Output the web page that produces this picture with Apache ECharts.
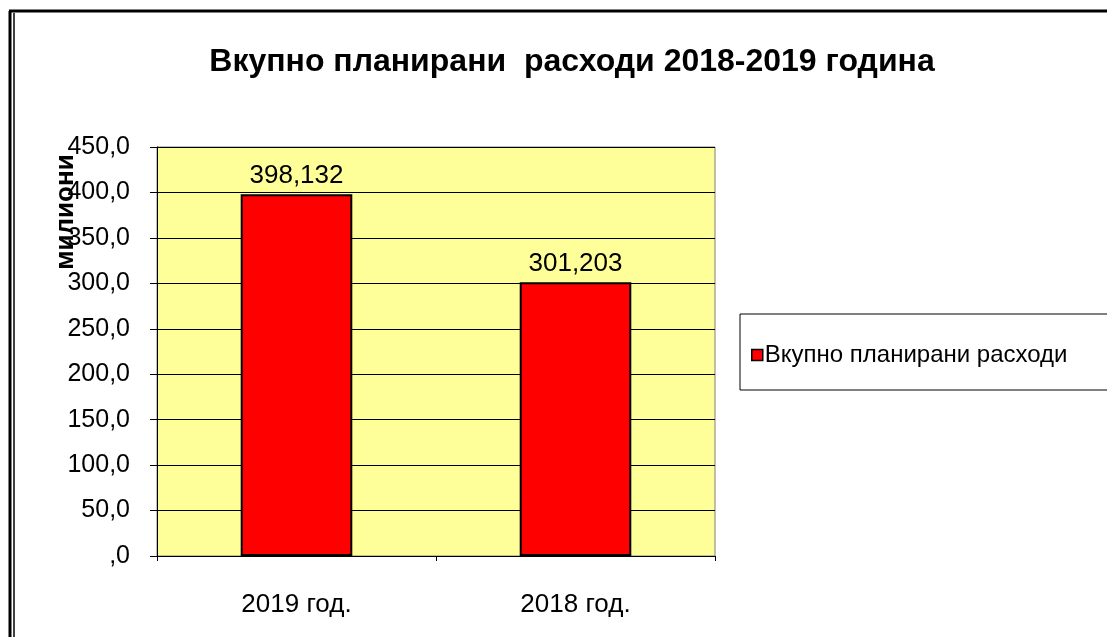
<!DOCTYPE html>
<html>
<head>
    <meta charset="UTF-8">
    <title>Вкупно планирани расходи</title>
</head>
<body style="margin: 0;overflow: hidden;background: #fff;">
<div id="chart" style="width: 1107px;height: 637px"></div>

<script type="text/javascript" src="https://cdn.jsdelivr.net/npm/echarts@6/dist/echarts.min.js"></script>
<script type="text/javascript">
    var categories = ['2019 год.', '2018 год.'];
    var seriesName = 'Вкупно планирани расходи';
    var values = [398.132, 301.203];

    function fmt(v, digits) {
        var s = v.toFixed(digits).replace('.', ',');
        if (s.indexOf('0,') === 0) s = s.substring(1);
        return s;
    }

    var chart = echarts.init(document.getElementById('chart'));
    var font = 'Liberation Sans, Arial, sans-serif';
    var option = {
        backgroundColor: '#fff',
        animation: false,
        title: {
            text: 'Вкупно планирани  расходи 2018-2019 година',
            left: 567,
            textAlign: 'center',
            top: 41,
            textStyle: {fontFamily: font, fontSize: 32, fontWeight: 'bold', color: '#000'}
        },
        grid: {
            left: 157, right: 392, top: 147, bottom: 81,
            show: true,
            backgroundColor: '#FFFF99',
            borderColor: '#808080',
            borderWidth: 1
        },
        legend: {
            data: [seriesName],
            left: 746,
            top: 338,
            icon: 'rect',
            itemWidth: 11,
            itemHeight: 11,
            itemGap: 4,
            textStyle: {fontFamily: font, fontSize: 24, color: '#000', padding: [0, 0, 0, -3]},
            itemStyle: {borderColor: '#000', borderWidth: 1.5}
        },
        xAxis: {
            type: 'category',
            data: categories,
            axisLine: {lineStyle: {color: '#000'}},
            axisTick: {show: true, length: 5, lineStyle: {color: '#000'}},
            axisLabel: {fontFamily: font, fontSize: 26, color: '#000', margin: 36}
        },
        yAxis: {
            type: 'value',
            min: 0,
            max: 450,
            interval: 50,
            axisLine: {show: true, lineStyle: {color: '#000'}},
            axisTick: {show: true, length: 7, lineStyle: {color: '#000'}},
            splitLine: {lineStyle: {color: '#000', width: 1}},
            axisLabel: {
                fontFamily: font, fontSize: 25, color: '#000', margin: 27,
                formatter: function (v) { return fmt(v, 1); }
            }
        },
        series: [{
            name: seriesName,
            type: 'bar',
            data: values,
            barWidth: '40%',
            itemStyle: {color: '#FF0000', borderColor: '#000', borderWidth: 2},
            label: {
                show: true,
                position: 'top',
                distance: 5,
                fontFamily: font,
                fontSize: 26,
                color: '#000',
                formatter: function (p) { return fmt(p.value, 3); }
            }
        }],
        graphic: [
            {type: 'line', shape: {x1: 9, y1: 11, x2: 1107, y2: 11}, style: {stroke: '#000', lineWidth: 3}},
            {type: 'line', shape: {x1: 10, y1: 11, x2: 10, y2: 637}, style: {stroke: '#000', lineWidth: 3}},
            {type: 'line', shape: {x1: 14, y1: 13, x2: 14, y2: 637}, style: {stroke: '#000', lineWidth: 1.5}},
            {type: 'rect', shape: {x: 740, y: 314, width: 380, height: 76}, style: {fill: 'none', stroke: '#000', lineWidth: 1}},
            {
                type: 'text', x: 66, y: 212, rotation: Math.PI / 2,
                style: {text: 'милиони', font: 'bold 26px ' + font, fill: '#000', align: 'center', verticalAlign: 'middle'}
            }
        ]
    };
    chart.setOption(option);
</script>
</body>
</html>
